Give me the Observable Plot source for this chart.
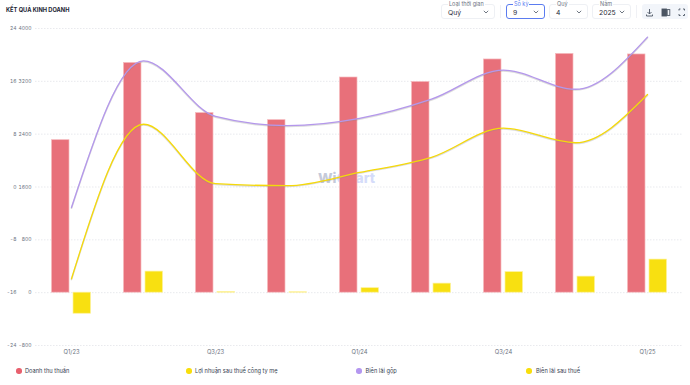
<!DOCTYPE html>
<html><head><meta charset="utf-8">
<script src="https://cdn.jsdelivr.net/npm/d3@7"></script>
<script src="https://cdn.jsdelivr.net/npm/@observablehq/plot@0.6"></script>
<style>
html,body{margin:0;padding:0;background:#fff;font-family:Inter,sans-serif;}
#page{position:relative;width:690px;height:385px;overflow:hidden;}
#chart{position:absolute;left:0;top:0;}
.abs{position:absolute;white-space:nowrap;}
.title{left:6px;top:5px;font-size:5.7px;font-weight:700;color:#1c2434;line-height:9px;}
.box{position:absolute;top:4px;height:15px;border:1px solid #eef0f4;border-radius:3px;box-sizing:border-box;background:#fff;}
.box .lab{position:absolute;left:6px;top:-4px;font-size:5.5px;line-height:7px;background:#fff;padding:0 1px;color:#6b7280;}
.box .val{position:absolute;left:6px;top:3.5px;font-size:6.8px;line-height:8px;color:#1f2937;}
.box svg{position:absolute;right:5px;top:5px;}
.sel{border:1px solid #5b7cf0;}
.sel .lab{color:#5b7cf0;}
.sep{position:absolute;top:5px;height:13px;width:1px;background:#f0f1f5;}
.dot{position:absolute;top:368px;width:5.5px;height:5.5px;border-radius:50%;}
.leg{position:absolute;top:367px;font-size:5.7px;line-height:8px;color:#374151;white-space:nowrap;}
.wm{left:318px;top:168px;font-size:13.8px;font-weight:800;line-height:20px;}
</style></head>
<body><div id="page">
<div class="abs wm"><span style="color:#c5cad9">Wi</span><span style="color:#d5dcfa">Chart</span></div>
<div id="chart"></div>
<div class="abs title">KẾT QUẢ KINH DOANH</div>
<div id="controls"></div><div id="legend"></div></div>
<script>
const quarters = ["Q1/23","Q2/23","Q3/23","Q4/23","Q1/24","Q2/24","Q3/24","Q4/24","Q1/25"];
const tickLabelsX = ["Q1/23","Q3/23","Q1/24","Q3/24","Q1/25"];
const revenue = [2309,3478,2719,2612,3258,3190,3531,3615,3607];
const netProfit = [-319,319,8,6,68,137,311,243,501];
const grossMargin = [-3.1,19.1,10.7,9.3,10.4,13.3,17.7,14.8,22.7];
const netMargin = [-13.9,9.5,0.5,0.2,2.2,4.5,8.9,6.7,14.0];
const valueTicks = [4000,3200,2400,1600,800,0,-800];
const percentTicks = [24,16,8,0,-8,-16,-24];
const legendItems = [["Doanh thu thuần","#e8606e",16,25],["Lợi nhuận sau thuế công ty mẹ","#f8de0c",186,195],["Biên lãi gộp","#b497f0",356,365.5],["Biên lãi sau thuế","#f8de0c",526,536]];
const controls = [["Loại thời gian","Quý",441,54,false],["Số kỳ","9",506,38.5,true],["Quý","4",549,38.5,false],["Năm","2025",592,39,false]];

const pct = p => 1600 + p * 100; // left-hand percent axis shares the plot's y scale
const rows = quarters.map((q,i)=>({q,revenue:revenue[i],netProfit:netProfit[i],gross:pct(grossMargin[i]),net:pct(netMargin[i])}));
const curve = "monotone-x";
const pctOf = Object.fromEntries(valueTicks.map((v,i)=>[v,percentTicks[i]]));

const plot = Plot.plot({
  width:690,height:385,marginLeft:35,marginRight:7,marginTop:28,marginBottom:40,
  style:{fontFamily:"Inter,sans-serif",background:"transparent"},
  x:{type:"band",domain:quarters,padding:0,label:null},
  y:{domain:[-800,4000],label:null},
  marks:[
    Plot.ruleY(valueTicks,{stroke:"#dfe1e6",strokeWidth:0.7,strokeDasharray:"1.5 1.5"}),
    Plot.axisY({ticks:valueTicks,tickSize:0,tickPadding:3,fontSize:5,fill:"#6b7280",tickFormat:d=>String(d),label:null,dx:-1}),
    Plot.axisY({ticks:valueTicks,tickSize:0,tickPadding:3,fontSize:5,fill:"#6b7280",tickFormat:d=>String(pctOf[d]),label:null,dx:-16}),
    Plot.axisX({ticks:tickLabelsX,tickSize:0,tickPadding:4,fontSize:5.8,fill:"#6b7280",label:null}),
    Plot.barY(rows,{x:"q",y:"revenue",insetLeft:16.5,insetRight:38,fill:"#e8707a",stroke:"#f5b9bd",strokeWidth:0.7}),
    Plot.barY(rows,{x:"q",y:"netProfit",insetLeft:38,insetRight:16.5,fill:"#f8e011",stroke:"#fdf29a",strokeWidth:0.7}),
    Plot.line(rows,{x:"q",y:"gross",curve,stroke:"#8a8a8a",strokeOpacity:0.3,strokeWidth:1.6,dy:0.8}),
    Plot.line(rows,{x:"q",y:"net",curve,stroke:"#8a8a8a",strokeOpacity:0.3,strokeWidth:1.6,dy:0.8}),
    Plot.line(rows,{x:"q",y:"gross",curve,stroke:"#b497ec",strokeWidth:1.3}),
    Plot.line(rows,{x:"q",y:"net",curve,stroke:"#f5d90a",strokeWidth:1.3})
  ]
});
document.getElementById("chart").append(plot);

const chevron='<svg width="6" height="4" viewBox="0 0 6 4"><path d="M0.8 0.8 L3 3 L5.2 0.8" fill="none" stroke="#4b5563" stroke-width="0.8"/></svg>';
let h="";
for(const [lab,val,x,w,sel] of controls){
  h+=`<div class="box ${sel?"sel":""}" style="left:${x}px;width:${w}px"><span class="lab">${lab}</span><span class="val">${val}</span>${chevron}</div>`;
}
h+='<div class="sep" style="left:500px"></div><div class="sep" style="left:636px"></div>';
h+=`<div class="abs" style="left:642px;top:4px;width:46px;height:15px;background:#f2f5fa;border-radius:3px">
<svg width="46" height="15" viewBox="0 0 46 15" fill="none" stroke="#4b5563" stroke-width="0.9">
<path d="M7.5 4 V9 M5.5 7 L7.5 9 L9.5 7 M4.5 9.5 V11 H10.5 V9.5"/>
<rect x="20" y="4" width="4.5" height="7" fill="#4b5563"/><rect x="25.2" y="4.6" width="2.6" height="5.8"/>
<path d="M37 5.5 V4 H38.5 M41 4 H42.5 V5.5 M42.5 9 V10.5 H41 M38.5 10.5 H37 V9"/></svg></div>`;
document.getElementById("controls").innerHTML=h;
document.getElementById("legend").innerHTML=legendItems.map(([t,c,dx,tx])=>`<div class="dot" style="left:${dx}px;background:${c}"></div><div class="leg" style="left:${tx}px">${t}</div>`).join("");
</script></body></html>
